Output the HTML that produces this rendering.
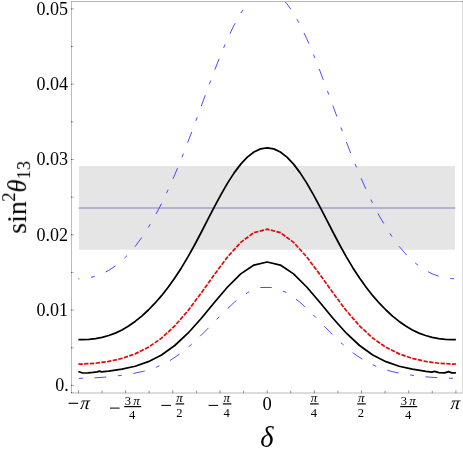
<!DOCTYPE html>
<html><head><meta charset="utf-8"><title>plot</title>
<style>html,body{margin:0;padding:0;background:#fff;}svg{display:block;}</style></head>
<body><svg width="463" height="452" viewBox="0 0 463 452">
<filter id="f" filterUnits="userSpaceOnUse" x="0" y="0" width="463" height="452"><feOffset dx="0" dy="0"/></filter>
<rect x="0" y="0" width="463" height="452" fill="#fff"/>
<rect x="78.9" y="166.0" width="376.1" height="83.7" fill="#e5e5e5"/>
<line x1="78.8" y1="208" x2="455.2" y2="208" stroke="#8080bc" stroke-width="1"/>
<clipPath id="c"><rect x="71.5" y="1.5" width="391" height="391"/></clipPath>
<g clip-path="url(#c)" fill="none">
<path d="M78.40,278.82 L82.35,278.68 L88.95,277.85 L95.55,276.24 L102.15,273.78 L108.75,270.40 L115.35,266.03 L121.95,260.61 L128.55,254.06 L135.15,246.36 L141.75,237.46 L148.35,227.36 L154.95,216.03 L161.55,203.47 L168.15,189.71 L174.75,174.79 L181.35,158.82 L187.95,141.93 L194.55,124.37 L201.15,106.43 L207.75,88.48 L214.35,70.93 L220.95,54.20 L227.55,38.74 L234.15,24.95 L240.75,13.18 L247.35,3.73 L253.95,-3.17 L260.55,-7.38 L267.15,-8.79 L273.75,-7.38 L280.35,-3.17 L286.95,3.73 L293.55,13.18 L300.15,24.95 L306.75,38.74 L313.35,54.20 L319.95,70.93 L326.55,88.48 L333.15,106.43 L339.75,124.37 L346.35,141.93 L352.95,158.82 L359.55,174.79 L366.15,189.71 L372.75,203.47 L379.35,216.03 L385.95,227.36 L392.55,237.46 L399.15,246.36 L405.75,254.06 L412.35,260.61 L418.95,266.03 L425.55,270.40 L432.15,273.78 L438.75,276.24 L445.35,277.85 L451.95,278.68 L455.90,278.82" stroke="#4040ff" stroke-width="0.95" stroke-dasharray="11.7 11.7 3.9 11.7" stroke-dashoffset="10.7"/>
<path d="M78.40,378.32 L91.38,378.03 L104.40,377.20 L117.42,375.88 L130.44,374.02 L143.46,371.30 L156.48,367.14 L169.50,360.90 L182.52,352.13 L195.54,340.87 L208.56,327.83 L221.58,314.30 L234.60,301.97 L247.62,292.56 L260.64,287.47 L273.66,287.47 L286.68,292.56 L299.70,301.97 L312.72,314.30 L325.74,327.83 L338.76,340.87 L351.78,352.13 L364.80,360.90 L377.82,367.14 L390.84,371.30 L403.86,374.02 L416.88,375.88 L429.90,377.20 L442.92,378.03 L455.90,378.32" stroke="#4040ff" stroke-width="0.95" stroke-dasharray="11.7 11.7 3.9 11.7" stroke-dashoffset="22.8"/>
<path d="M78.40,339.70 L82.35,339.64 L88.95,339.27 L95.55,338.52 L102.15,337.31 L108.75,335.53 L115.35,333.09 L121.95,329.95 L128.55,326.06 L135.15,321.43 L141.75,316.07 L148.35,310.01 L154.95,303.22 L161.55,295.68 L168.15,287.31 L174.75,278.07 L181.35,267.91 L187.95,256.84 L194.55,244.97 L201.15,232.50 L207.75,219.70 L214.35,206.93 L220.95,194.61 L227.55,183.13 L234.15,172.85 L240.75,164.10 L247.35,157.09 L253.95,151.99 L260.55,148.90 L267.15,147.86 L273.75,148.90 L280.35,151.99 L286.95,157.09 L293.55,164.10 L300.15,172.85 L306.75,183.13 L313.35,194.61 L319.95,206.93 L326.55,219.70 L333.15,232.50 L339.75,244.97 L346.35,256.84 L352.95,267.91 L359.55,278.07 L366.15,287.31 L372.75,295.68 L379.35,303.22 L385.95,310.01 L392.55,316.07 L399.15,321.43 L405.75,326.06 L412.35,329.95 L418.95,333.09 L425.55,335.53 L432.15,337.31 L438.75,338.52 L445.35,339.27 L451.95,339.64 L455.90,339.70" stroke="#000" stroke-width="1.75" stroke-linejoin="round"/>
<path d="M78.40,371.50 L82.50,373.00 L88.00,372.80 L93.00,372.40 L97.30,371.90 L99.30,371.20 L101.60,371.80 L106.00,371.30 L108.75,371.04 L121.95,369.19 L135.15,366.24 L148.35,361.69 L161.55,354.95 L174.75,345.50 L187.95,333.22 L201.15,318.53 L214.35,302.55 L227.55,287.00 L240.75,273.89 L253.95,265.10 L267.15,262.01 L280.35,265.10 L293.55,273.89 L306.75,287.00 L319.95,302.55 L333.15,318.53 L346.35,333.22 L359.55,345.50 L372.75,354.95 L385.95,361.69 L399.15,366.24 L412.35,369.19 L426.00,371.40 L431.70,372.10 L434.70,371.30 L438.90,372.60 L444.70,372.90 L448.60,371.70 L451.80,372.80 L455.90,372.90" stroke="#000" stroke-width="1.75" stroke-linejoin="round"/>
<path d="M78.40,364.10 L82.35,364.05 L95.55,363.26 L108.75,361.43 L121.95,358.40 L135.15,353.86 L148.35,347.30 L161.55,338.12 L174.75,325.92 L187.95,310.71 L201.15,293.14 L214.35,274.59 L227.55,256.93 L240.75,242.31 L253.95,232.63 L267.15,229.24 L280.35,232.63 L293.55,242.31 L306.75,256.93 L319.95,274.59 L333.15,293.14 L346.35,310.71 L359.55,325.92 L372.75,338.12 L385.95,347.30 L399.15,353.86 L412.35,358.40 L425.55,361.43 L438.75,363.26 L451.95,364.05 L455.90,364.10" stroke="#e20808" stroke-width="1.7" stroke-dasharray="4.4 1.35"/>
</g>
<g shape-rendering="crispEdges">
<rect x="71" y="1" width="1" height="392" fill="#bcbcbc"/>
<rect x="71" y="1" width="392" height="1" fill="#b8b8b8"/>
<rect x="462" y="1" width="1" height="393" fill="#dcdcdc"/>
<rect x="71" y="392" width="392" height="2" fill="#dcdcdc"/>
<rect x="71" y="392" width="1" height="1" fill="#606060"/>
<rect x="72" y="392" width="2" height="1" fill="#c4c4c4"/>
<rect x="462" y="1" width="1" height="1" fill="#a0a0a0"/>
</g>
<g stroke="#606060" stroke-width="0.7">
<line x1="71.0" y1="385.40" x2="72.0" y2="385.40" stroke="#555" stroke-width="1"/>
<line x1="72.0" y1="385.40" x2="74.00" y2="385.40" stroke="#aaa" stroke-width="1"/>
<line x1="71.0" y1="347.75" x2="72.0" y2="347.75" stroke="#555" stroke-width="1"/>
<line x1="72.0" y1="347.75" x2="73.50" y2="347.75" stroke="#aaa" stroke-width="1"/>
<line x1="71.0" y1="310.10" x2="72.0" y2="310.10" stroke="#555" stroke-width="1"/>
<line x1="72.0" y1="310.10" x2="74.00" y2="310.10" stroke="#aaa" stroke-width="1"/>
<line x1="71.0" y1="272.45" x2="72.0" y2="272.45" stroke="#555" stroke-width="1"/>
<line x1="72.0" y1="272.45" x2="73.50" y2="272.45" stroke="#aaa" stroke-width="1"/>
<line x1="71.0" y1="234.80" x2="72.0" y2="234.80" stroke="#555" stroke-width="1"/>
<line x1="72.0" y1="234.80" x2="74.00" y2="234.80" stroke="#aaa" stroke-width="1"/>
<line x1="71.0" y1="197.15" x2="72.0" y2="197.15" stroke="#555" stroke-width="1"/>
<line x1="72.0" y1="197.15" x2="73.50" y2="197.15" stroke="#aaa" stroke-width="1"/>
<line x1="71.0" y1="159.50" x2="72.0" y2="159.50" stroke="#555" stroke-width="1"/>
<line x1="72.0" y1="159.50" x2="74.00" y2="159.50" stroke="#aaa" stroke-width="1"/>
<line x1="71.0" y1="121.85" x2="72.0" y2="121.85" stroke="#555" stroke-width="1"/>
<line x1="72.0" y1="121.85" x2="73.50" y2="121.85" stroke="#aaa" stroke-width="1"/>
<line x1="71.0" y1="84.20" x2="72.0" y2="84.20" stroke="#555" stroke-width="1"/>
<line x1="72.0" y1="84.20" x2="74.00" y2="84.20" stroke="#aaa" stroke-width="1"/>
<line x1="71.0" y1="46.55" x2="72.0" y2="46.55" stroke="#555" stroke-width="1"/>
<line x1="72.0" y1="46.55" x2="73.50" y2="46.55" stroke="#aaa" stroke-width="1"/>
<line x1="71.0" y1="8.90" x2="72.0" y2="8.90" stroke="#555" stroke-width="1"/>
<line x1="72.0" y1="8.90" x2="74.00" y2="8.90" stroke="#aaa" stroke-width="1"/>
<line x1="78.40" y1="393.2" x2="78.40" y2="390.30"/>
<line x1="101.99" y1="393.2" x2="101.99" y2="390.80"/>
<line x1="125.59" y1="393.2" x2="125.59" y2="390.30"/>
<line x1="149.18" y1="393.2" x2="149.18" y2="390.80"/>
<line x1="172.78" y1="393.2" x2="172.78" y2="390.30"/>
<line x1="196.37" y1="393.2" x2="196.37" y2="390.80"/>
<line x1="219.96" y1="393.2" x2="219.96" y2="390.30"/>
<line x1="243.56" y1="393.2" x2="243.56" y2="390.80"/>
<line x1="267.15" y1="393.2" x2="267.15" y2="390.30"/>
<line x1="290.74" y1="393.2" x2="290.74" y2="390.80"/>
<line x1="314.34" y1="393.2" x2="314.34" y2="390.30"/>
<line x1="337.93" y1="393.2" x2="337.93" y2="390.80"/>
<line x1="361.52" y1="393.2" x2="361.52" y2="390.30"/>
<line x1="385.12" y1="393.2" x2="385.12" y2="390.80"/>
<line x1="408.71" y1="393.2" x2="408.71" y2="390.30"/>
<line x1="432.31" y1="393.2" x2="432.31" y2="390.80"/>
<line x1="455.90" y1="393.2" x2="455.90" y2="390.30"/>
</g>
<g filter="url(#f)">
<g font-family="Liberation Serif, serif" font-size="18.5" fill="#000" text-anchor="end">
<text transform="translate(68.8,390.70) scale(0.977,1)">0.</text>
<text transform="translate(68,315.80) scale(0.977,1)">0.01</text>
<text transform="translate(68,240.50) scale(0.977,1)">0.02</text>
<text transform="translate(68,165.20) scale(0.977,1)">0.03</text>
<text transform="translate(68,89.90) scale(0.977,1)">0.04</text>
<text transform="translate(68,14.60) scale(0.977,1)">0.05</text>
</g>
<g font-family="Liberation Serif, serif" fill="#000">
<line x1="109.99" y1="408.10" x2="119.59" y2="408.10" stroke="#000" stroke-width="1"/>
<line x1="124.19" y1="406.60" x2="141.19" y2="406.60" stroke="#000" stroke-width="1.2"/>
<text x="124.69" y="405.30" font-size="12.6">3</text>
<text x="133.19" y="405.30" font-size="13" font-style="italic">π</text>
<text x="132.19" y="419.20" font-size="12.6" text-anchor="middle">4</text>
<line x1="161.37" y1="405.40" x2="170.97" y2="405.40" stroke="#000" stroke-width="1"/>
<line x1="175.57" y1="403.90" x2="184.17" y2="403.90" stroke="#000" stroke-width="1.2"/>
<text x="179.57" y="402.20" font-size="13" font-style="italic" text-anchor="middle">π</text>
<text x="179.37" y="416.50" font-size="12.6" text-anchor="middle">2</text>
<line x1="208.56" y1="405.40" x2="218.16" y2="405.40" stroke="#000" stroke-width="1"/>
<line x1="222.76" y1="403.90" x2="231.36" y2="403.90" stroke="#000" stroke-width="1.2"/>
<text x="226.76" y="402.20" font-size="13" font-style="italic" text-anchor="middle">π</text>
<text x="226.56" y="416.50" font-size="12.6" text-anchor="middle">4</text>
<line x1="310.04" y1="403.90" x2="318.64" y2="403.90" stroke="#000" stroke-width="1.2"/>
<text x="314.04" y="402.20" font-size="13" font-style="italic" text-anchor="middle">π</text>
<text x="313.84" y="416.50" font-size="12.6" text-anchor="middle">4</text>
<line x1="357.22" y1="403.90" x2="365.82" y2="403.90" stroke="#000" stroke-width="1.2"/>
<text x="361.22" y="402.20" font-size="13" font-style="italic" text-anchor="middle">π</text>
<text x="361.02" y="416.50" font-size="12.6" text-anchor="middle">2</text>
<line x1="400.21" y1="406.60" x2="417.21" y2="406.60" stroke="#000" stroke-width="1.2"/>
<text x="400.71" y="405.30" font-size="12.6">3</text>
<text x="409.21" y="405.30" font-size="13" font-style="italic">π</text>
<text x="408.21" y="419.20" font-size="12.6" text-anchor="middle">4</text>
<text x="267.15" y="409.5" font-size="18.5" text-anchor="middle">0</text>
<line x1="68.5" y1="403.3" x2="78.1" y2="403.3" stroke="#000" stroke-width="1.1"/>
<text transform="translate(80.0,408.5) skewX(-6)" font-size="18.4" font-style="italic">π</text>
<text transform="translate(450.3,408.5) skewX(-6)" font-size="18.4" font-style="italic">π</text>
<text x="266.85" y="447.0" font-size="28.5" font-style="italic" text-anchor="middle">δ</text>
<g transform="translate(26.1,233.8) rotate(-90)">
<text x="0" y="0" font-size="28">sin<tspan font-size="19" dy="-11.5" dx="-0.8">2</tspan><tspan font-size="26.5" font-style="italic" dy="11.5" dx="-0.2">θ</tspan><tspan font-size="18.3" dy="4" dx="0.3">13</tspan></text>
</g>
</g>
</g>
</svg></body></html>
